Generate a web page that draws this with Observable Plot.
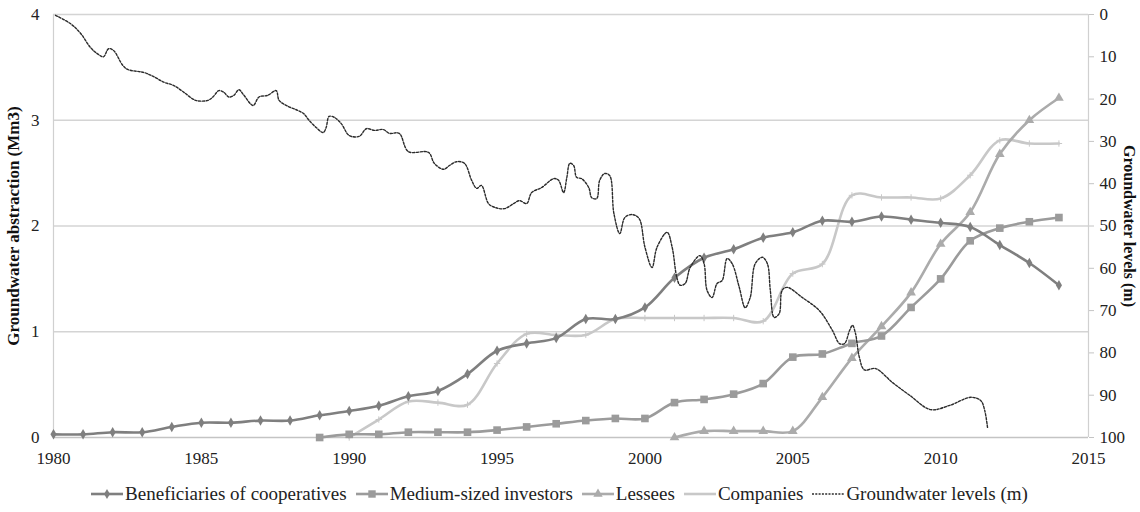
<!DOCTYPE html>
<html>
<head>
<meta charset="utf-8">
<script src="https://cdn.jsdelivr.net/npm/d3@7"></script>
<script src="https://cdn.jsdelivr.net/npm/@observablehq/plot@0.6"></script>
<style>
  html, body { margin: 0; padding: 0; background: #fff; }
  body { width: 1140px; height: 512px; overflow: hidden; font-family: "Liberation Serif", "DejaVu Serif", Times, serif; }
  #legend { display: flex; justify-content: center; align-items: center; height: 37px; font-size: 19px; color: #222; padding-right: 22px; box-sizing: border-box; width: 1140px; }
  #legend .item { display: flex; align-items: center; margin: 0 4px; }
  #legend .item span { font-family: "Liberation Serif", "DejaVu Serif", Times, serif; }
  #legend svg { margin-right: 1px; }
  #chart svg text { font-family: "Liberation Serif", "DejaVu Serif", Times, serif !important; }
</style>
</head>
<body>
<div id="chart"></div>
<div id="legend"></div>
<script>
// ---- data ----
const benefYears = [1980,1981,1982,1983,1984,1985,1986,1987,1988,1989,1990,1991,1992,1993,1994,1995,1996,1997,1998,1999,2000,2001,2002,2003,2004,2005,2006,2007,2008,2009,2010,2011,2012,2013,2014];
const benefValues = [0.03,0.03,0.05,0.05,0.10,0.14,0.14,0.16,0.16,0.21,0.25,0.30,0.39,0.44,0.60,0.82,0.89,0.94,1.12,1.12,1.23,1.51,1.70,1.78,1.89,1.94,2.05,2.04,2.09,2.06,2.03,1.99,1.82,1.65,1.44];

const mediumYears = [1989,1990,1991,1992,1993,1994,1995,1996,1997,1998,1999,2000,2001,2002,2003,2004,2005,2006,2007,2008,2009,2010,2011,2012,2013,2014];
const mediumValues = [0,0.03,0.03,0.05,0.05,0.05,0.07,0.10,0.13,0.16,0.18,0.18,0.33,0.36,0.41,0.51,0.76,0.79,0.89,0.96,1.23,1.50,1.86,1.98,2.04,2.08];

const lesseesYears = [2001,2002,2003,2004,2005,2006,2007,2008,2009,2010,2011,2012,2013,2014];
const lesseesValues = [0,0.06,0.06,0.06,0.06,0.38,0.75,1.05,1.37,1.83,2.13,2.68,3.00,3.21];

const companiesYears = [1990,1991,1992,1993,1994,1995,1996,1997,1998,1999,2000,2001,2002,2003,2004,2005,2006,2007,2008,2009,2010,2011,2012,2013,2014];
const companiesValues = [0,0.17,0.34,0.33,0.31,0.70,0.98,0.97,0.97,1.12,1.13,1.13,1.13,1.13,1.10,1.55,1.64,2.29,2.27,2.27,2.26,2.48,2.81,2.78,2.78];

const gwTime = [1980.07,1980.58,1980.92,1981.25,1981.49,1981.69,1981.86,1982.03,1982.34,1982.51,1983.05,1983.39,1983.73,1984.07,1984.41,1984.81,1985.22,1985.39,1985.59,1985.76,1985.93,1986.10,1986.27,1986.44,1986.75,1986.95,1987.25,1987.53,1987.63,1987.93,1988.27,1988.47,1988.64,1988.88,1989.12,1989.22,1989.32,1989.49,1989.73,1990.00,1990.34,1990.58,1990.85,1991.15,1991.36,1991.69,1992.00,1992.68,1992.88,1993.19,1993.39,1993.63,1993.90,1994.14,1994.31,1994.47,1994.71,1994.92,1995.25,1995.56,1995.76,1996.00,1996.17,1996.51,1996.92,1997.08,1997.25,1997.36,1997.46,1997.59,1997.69,1997.86,1998.10,1998.20,1998.37,1998.47,1998.64,1998.81,1998.95,1999.15,1999.32,1999.56,1999.80,2000.00,2000.24,2000.41,2000.75,2000.92,2001.08,2001.19,2001.36,2001.53,2001.86,2002.00,2002.10,2002.27,2002.44,2002.61,2002.78,2002.95,2003.19,2003.39,2003.56,2003.73,2003.97,2004.14,2004.24,2004.37,2004.54,2004.64,2004.81,2005.32,2005.90,2006.34,2006.58,2006.75,2006.92,2007.02,2007.12,2007.25,2007.42,2007.80,2008.37,2008.95,2009.66,2010.31,2011.02,2011.36,2011.49,2011.59];
const gwDepth = [0.2,2.2,4.5,7.8,9.3,10,8.1,8.5,12,13,13.7,14.7,16,16.8,18.4,20.3,20.3,19.5,18,18.4,19.5,19.1,17.8,19.1,21.5,19.5,19.1,18,20.3,21.7,22.7,23.5,25,26.7,27.9,26.7,24.1,24.3,25.8,28.6,28.8,27,27.4,27.2,28.1,28.1,32.4,32.6,35.2,36.6,35.7,34.8,35.2,39.2,41.1,40.4,44.7,45.6,45.9,44.7,44,44.7,42.1,40.9,38.8,39.2,42.1,38.5,35.2,35.7,38.5,38.8,40.9,43.3,43.5,39.2,37.6,38.1,47,51.8,48,47.3,48.2,55,59.8,55,51.5,55,62.2,64,63.6,59.8,57,58.9,65.2,66.9,63.6,62.9,57.7,58.9,64.5,69.3,66.9,58.9,57.4,58.9,65.2,71.6,70.7,65.2,64.5,66.9,70,74.7,77.8,77.8,74.7,73.5,75.4,81,84,83.7,87,90,93.4,92.4,90.5,91.3,93.6,97.9];

const xTicks = [1980,1985,1990,1995,2000,2005,2010,2015];
const leftTicks = [0,1,2,3,4];
const rightTicks = [0,10,20,30,40,50,60,70,80,90,100];

const seriesNames = ["Beneficiaries of cooperatives","Medium-sized investors","Lessees","Companies","Groundwater levels (m)"];
const seriesColors = ["#7f7f7f","#9b9b9b","#ababab","#c8c8c8","#2b2b2b"];
const seriesSymbols = ["diamond","square","triangle","plus",null];

// ---- build tables ----
const toRows = (ys, vs) => ys.map((y, i) => ({year: y, value: vs[i]}));
const benef = toRows(benefYears, benefValues);
const medium = toRows(mediumYears, mediumValues);
const lessees = toRows(lesseesYears, lesseesValues);
const companies = toRows(companiesYears, companiesValues);
// right axis: depth 0 (top) .. 100 (bottom) mapped onto left 4 .. 0
const depthToY = d => 4 - d / 25;
const gw = gwTime.map((t, i) => ({year: t, y: depthToY(gwDepth[i])}));

const font = '"Liberation Serif", "DejaVu Serif", Times, serif';

const chart = Plot.plot({
  width: 1140,
  height: 475,
  marginLeft: 53,
  marginRight: 52,
  marginTop: 14,
  marginBottom: 38,
  style: {fontFamily: font, fontSize: "17px", color: "#222", background: "#fff"},
  x: {domain: [1980, 2015]},
  y: {domain: [0, 4]},
  marks: [
    Plot.ruleY([1, 2, 3, 4], {stroke: "#d4d4d4", strokeWidth: 1.3}),
    Plot.ruleX([1980, 2015], {stroke: "#d0d0d0", strokeWidth: 1.2}),
    Plot.ruleY([0], {stroke: "#c4c4c4", strokeWidth: 1.3}),
    Plot.axisX({ticks: xTicks, tickFormat: d => String(d), tickSize: 0, tickPadding: 14, label: null, fontSize: 17}),
    Plot.axisY({ticks: leftTicks, tickFormat: d => String(d), tickSize: 0, tickPadding: 14, label: null, fontSize: 17}),
    Plot.axisY({anchor: "right", ticks: rightTicks.map(depthToY), tickFormat: v => String(Math.round((4 - v) * 25)),
      tickSize: 5, tickPadding: 6, stroke: "#c4c4c4", label: null, fontSize: 17}),
    // companies
    Plot.line(companies, {x: "year", y: "value", stroke: seriesColors[3], strokeWidth: 2.6, curve: "catmull-rom"}),
    Plot.dot(companies, {x: "year", y: "value", symbol: "plus", r: 2.2, stroke: seriesColors[3], strokeWidth: 1}),
    // lessees
    Plot.line(lessees, {x: "year", y: "value", stroke: seriesColors[2], strokeWidth: 2.6, curve: "catmull-rom"}),
    Plot.dot(lessees, {x: "year", y: "value", symbol: "triangle", r: 3.6, fill: seriesColors[2]}),
    // medium-sized investors
    Plot.line(medium, {x: "year", y: "value", stroke: seriesColors[1], strokeWidth: 2.6, curve: "catmull-rom"}),
    Plot.dot(medium, {x: "year", y: "value", symbol: "square", r: 4.3, fill: seriesColors[1]}),
    // beneficiaries
    Plot.line(benef, {x: "year", y: "value", stroke: seriesColors[0], strokeWidth: 2.6, curve: "catmull-rom"}),
    Plot.dot(benef, {x: "year", y: "value", symbol: "diamond", r: 3.2, fill: seriesColors[0]}),
    // groundwater levels
    Plot.line(gw, {x: "year", y: "y", stroke: seriesColors[4], strokeWidth: 1.4, strokeDasharray: "2.2,1.6", curve: "catmull-rom"}),
    // axis titles
    Plot.text(["Groundwater abstraction (Mm3)"], {frameAnchor: "left", textAnchor: "middle", dx: -40, rotate: -90, fontWeight: "bold", fontSize: 17, fill: "#111"}),
    Plot.text(["Groundwater levels (m)"], {frameAnchor: "right", textAnchor: "middle", dx: 41, rotate: 90, fontWeight: "bold", fontSize: 16, fill: "#111"})
  ]
});
document.getElementById("chart").appendChild(chart);

// ---- legend ----
const legend = d3.select("#legend");
seriesNames.forEach((name, i) => {
  const item = legend.append("div").attr("class", "item");
  const s = item.append("svg").attr("width", 34).attr("height", 12);
  if (seriesSymbols[i] === null) {
    s.append("line").attr("x1", 1).attr("x2", 33).attr("y1", 6).attr("y2", 6)
      .attr("stroke", seriesColors[i]).attr("stroke-width", 1.3).attr("stroke-dasharray", "2,1.3");
  } else {
    s.append("line").attr("x1", 1).attr("x2", 33).attr("y1", 6).attr("y2", 6)
      .attr("stroke", seriesColors[i]).attr("stroke-width", 2.6);
    const sym = {diamond: d3.symbolDiamond, square: d3.symbolSquare, triangle: d3.symbolTriangle, plus: d3.symbolPlus}[seriesSymbols[i]];
    const sz = {diamond: 30, square: 55, triangle: 38, plus: 14}[seriesSymbols[i]];
    if (seriesSymbols[i] !== "plus") {
      s.append("path").attr("d", d3.symbol(sym, sz)()).attr("transform", "translate(17,6)").attr("fill", seriesColors[i]);
    }
  }
  item.append("span").text(name);
});
</script>
</body>
</html>
